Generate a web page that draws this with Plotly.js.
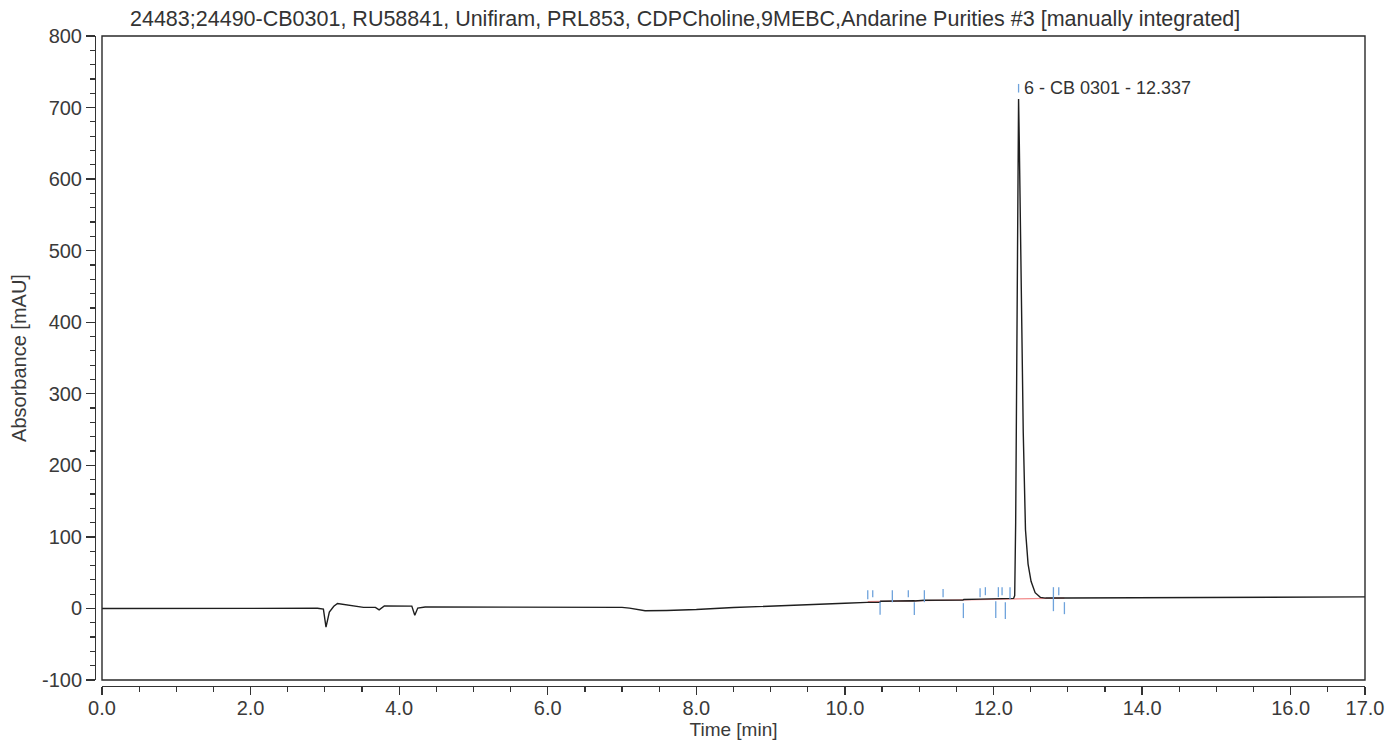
<!DOCTYPE html>
<html>
<head>
<meta charset="utf-8">
<script src="https://cdn.plot.ly/plotly-3.0.1.min.js"></script>
<style>
html,body{margin:0;padding:0;background:#fff;}
#chart{width:1387px;height:742px;}
</style>
</head>
<body>
<div id="chart"></div>
<script>
// Chromatogram trace (time in min, absorbance in mAU)
const timeVals = [0.0, 1.0, 2.0, 2.9, 2.98, 3.015, 3.06, 3.12, 3.17, 3.3, 3.52, 3.68, 3.73, 3.8, 3.9, 4.17, 4.21, 4.25, 4.35, 5.0, 6.0, 7.0, 7.1, 7.31, 7.6, 8.0, 8.5, 9.0, 9.5, 10.0, 10.3, 10.47, 10.48, 10.63, 10.64, 10.93, 10.94, 11.07, 11.59, 11.6, 11.82, 12.03, 12.16, 12.22, 12.27, 12.285, 12.298, 12.312, 12.326, 12.337, 12.347, 12.362, 12.38, 12.4, 12.43, 12.465, 12.505, 12.56, 12.63, 12.7, 13.0, 14.0, 15.0, 16.0, 17.0];
const absVals  = [0.0, 0.0, 0.2, 0.2, -1, -26, -5, 3, 7, 5, 1.5, 1.5, -2, 3.5, 3.2, 3.2, -9.5, 0.5, 2, 2, 2, 1.5, 0.5, -3.3, -2.8, -1.5, 1.3, 3, 5.2, 7.2, 8.5, 8.5, 10, 10.5, 10.8, 10.8, 10.5, 11.5, 11.8, 12.5, 13, 13, 13.5, 13.5, 14, 18, 120, 330, 580, 712, 650, 540, 390, 246, 110, 62, 38, 22, 15.5, 14.5, 14.5, 14.8, 15.2, 15.7, 16.2];

// Integration baseline
const baseTimes = [10.307, 12.954];
const baseVals  = [9.5, 14.5];

// Integration marks (time, top and bottom in mAU)
const markTimes  = [10.307, 10.374, 10.473, 10.638, 10.853, 10.934, 11.069, 11.321, 11.594, 11.819, 11.890, 12.030, 12.065, 12.115, 12.159, 12.222, 12.806, 12.878, 12.954, 12.337];
const markTops   = [25.5, 25.5, 9.2, 25.5, 25.5, 8.8, 25.5, 27, 7.4, 28.3, 29.7, 10.2, 29.7, 29.7, 8.8, 29.7, 29.7, 29.7, 8.8, 733];
const markBottoms= [12.9, 15.8, -8.9, 8.8, 15.8, -9.3, 8.8, 15.8, -13.5, 15.8, 18.5, -13.5, 15.8, 18.5, -14.9, 13, -3.8, 18.5, -8, 721];

// Peak label
const peakTime = 12.337;
const peakLabelVal = 728;
const peakLabel = "6 - CB 0301 - 12.337";

// Axis ticks
const xTickVals = [0, 2, 4, 6, 8, 10, 12, 14, 16, 17];
const xTickText = ["0.0", "2.0", "4.0", "6.0", "8.0", "10.0", "12.0", "14.0", "16.0", "17.0"];
const yTickVals = [-100, 0, 100, 200, 300, 400, 500, 600, 700, 800];
const yTickText = ["-100", "0", "100", "200", "300", "400", "500", "600", "700", "800"];

const titleText = "24483;24490-CB0301, RU58841, Unifiram, PRL853, CDPCholine,9MEBC,Andarine Purities #3 [manually integrated]";

// Build segment arrays for the marks
const segX = [], segY = [];
for (let i = 0; i < markTimes.length; i++) {
  segX.push(markTimes[i], markTimes[i], null);
  segY.push(markTops[i], markBottoms[i], null);
}

const FONT = "Liberation Sans, Arial, sans-serif";
const TXT = "#3a3a3a";

const traces = [
  {x: baseTimes, y: baseVals, mode: "lines", line: {color: "#f28c8c", width: 1.2}, hoverinfo: "skip"},
  {x: timeVals, y: absVals, mode: "lines", line: {color: "#1e1e1e", width: 1.4}, hoverinfo: "skip"},
  {x: segX, y: segY, mode: "lines", line: {color: "#6fa3dc", width: 1.3}, hoverinfo: "skip", connectgaps: false}
];

const layout = {
  width: 1387, height: 742,
  paper_bgcolor: "#fff", plot_bgcolor: "#fff",
  showlegend: false,
  margin: {l: 95, r: 22, t: 36, b: 56},
  font: {family: FONT, color: TXT, size: 20},
  title: {
    text: titleText,
    font: {family: FONT, size: 21.5, color: "#333"},
    xref: "container", yref: "container",
    x: 130/1387, xanchor: "left",
    y: 1 - 18/742, yanchor: "middle"
  },
  xaxis: {
    domain: [7/1270, 1],
    range: [0, 17],
    anchor: "free", position: 0,
    showgrid: false, zeroline: false,
    showline: true, linecolor: "#333", linewidth: 1.4,
    ticks: "outside", ticklen: 8, tickwidth: 1.3, tickcolor: "#333",
    tickmode: "array", tickvals: xTickVals, ticktext: xTickText,
    tickfont: {family: FONT, size: 20, color: TXT},
    ticklabelstandoff: -4,
    minor: {tickmode: "linear", tick0: 0, dtick: 0.5, ticks: "outside", ticklen: 5, tickwidth: 1.2, tickcolor: "#333", showgrid: false},
    title: {text: "Time [min]", font: {family: FONT, size: 19, color: TXT}, standoff: 2}
  },
  yaxis: {
    domain: [6/650, 1],
    range: [-100, 800],
    anchor: "free", position: 0,
    showgrid: false, zeroline: false,
    showline: true, linecolor: "#333", linewidth: 1.4,
    ticks: "outside", ticklen: 9, tickwidth: 1.3, tickcolor: "#333",
    tickmode: "array", tickvals: yTickVals, ticktext: yTickText,
    tickfont: {family: FONT, size: 20, color: TXT},
    minor: {tickmode: "linear", tick0: 0, dtick: 20, ticks: "outside", ticklen: 5, tickwidth: 1.2, tickcolor: "#333", showgrid: false},
    title: {text: "Absorbance [mAU]", font: {family: FONT, size: 20, color: TXT}, standoff: 8}
  },
  shapes: [
    {type: "rect", xref: "x domain", yref: "y domain", x0: 0, x1: 1, y0: 0, y1: 1,
     line: {color: "#2a2a2a", width: 1.4}, fillcolor: "rgba(0,0,0,0)", layer: "above"}
  ],
  annotations: [
    {x: peakTime, y: peakLabelVal, xref: "x", yref: "y", text: peakLabel, showarrow: false,
     xanchor: "left", yanchor: "middle", xshift: 3,
     font: {family: FONT, size: 18, color: "#333"}}
  ]
};

Plotly.newPlot("chart", traces, layout, {staticPlot: true, displayModeBar: false});
</script>
</body>
</html>
